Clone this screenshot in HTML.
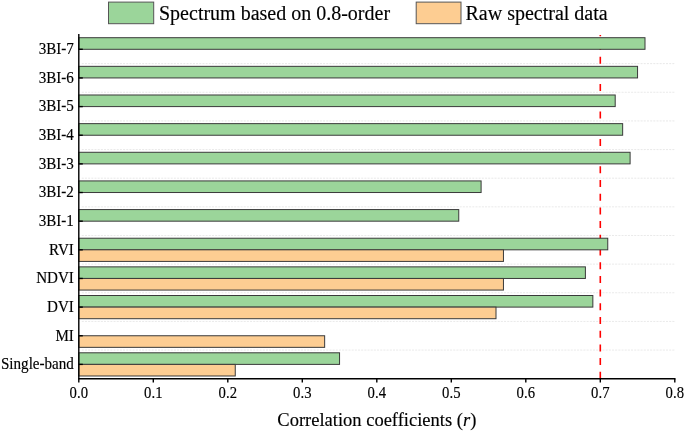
<!DOCTYPE html><html><head><meta charset="utf-8"><style>html,body{margin:0;padding:0;background:#fff;width:685px;height:431px;overflow:hidden}svg{display:block}text{font-family:"Liberation Serif",serif;fill:#000}g.t{will-change:transform;stroke:#000;stroke-width:0.15px}</style></head><body>
<svg width="685" height="431" viewBox="0 0 685 431">
<rect width="685" height="431" fill="#fff"/>
<line x1="81.80" y1="63.62" x2="674.80" y2="63.62" stroke="#e0e0e0" stroke-width="0.7" stroke-dasharray="2 1.175"/>
<line x1="81.80" y1="92.27" x2="674.80" y2="92.27" stroke="#e0e0e0" stroke-width="0.7" stroke-dasharray="2 1.175"/>
<line x1="81.80" y1="120.91" x2="674.80" y2="120.91" stroke="#e0e0e0" stroke-width="0.7" stroke-dasharray="2 1.175"/>
<line x1="81.80" y1="149.56" x2="674.80" y2="149.56" stroke="#e0e0e0" stroke-width="0.7" stroke-dasharray="2 1.175"/>
<line x1="81.80" y1="178.20" x2="674.80" y2="178.20" stroke="#e0e0e0" stroke-width="0.7" stroke-dasharray="2 1.175"/>
<line x1="81.80" y1="206.85" x2="674.80" y2="206.85" stroke="#e0e0e0" stroke-width="0.7" stroke-dasharray="2 1.175"/>
<line x1="81.80" y1="235.49" x2="674.80" y2="235.49" stroke="#e0e0e0" stroke-width="0.7" stroke-dasharray="2 1.175"/>
<line x1="81.80" y1="264.14" x2="674.80" y2="264.14" stroke="#e0e0e0" stroke-width="0.7" stroke-dasharray="2 1.175"/>
<line x1="81.80" y1="292.78" x2="674.80" y2="292.78" stroke="#e0e0e0" stroke-width="0.7" stroke-dasharray="2 1.175"/>
<line x1="81.80" y1="321.43" x2="674.80" y2="321.43" stroke="#e0e0e0" stroke-width="0.7" stroke-dasharray="2 1.175"/>
<line x1="81.80" y1="350.07" x2="674.80" y2="350.07" stroke="#e0e0e0" stroke-width="0.7" stroke-dasharray="2 1.175"/>
<line x1="600.30" y1="378.80" x2="600.30" y2="34.98" stroke="#ff0000" stroke-width="1.6" stroke-dasharray="7 6.7"/>
<rect x="78.80" y="37.70" width="566.20" height="11.60" fill="#9bd59a" stroke="#3a3a3a" stroke-width="1"/>
<rect x="78.80" y="66.34" width="558.75" height="11.60" fill="#9bd59a" stroke="#3a3a3a" stroke-width="1"/>
<rect x="78.80" y="94.99" width="536.40" height="11.60" fill="#9bd59a" stroke="#3a3a3a" stroke-width="1"/>
<rect x="78.80" y="123.64" width="543.85" height="11.60" fill="#9bd59a" stroke="#3a3a3a" stroke-width="1"/>
<rect x="78.80" y="152.28" width="551.30" height="11.60" fill="#9bd59a" stroke="#3a3a3a" stroke-width="1"/>
<rect x="78.80" y="180.92" width="402.30" height="11.60" fill="#9bd59a" stroke="#3a3a3a" stroke-width="1"/>
<rect x="78.80" y="209.57" width="379.95" height="11.60" fill="#9bd59a" stroke="#3a3a3a" stroke-width="1"/>
<rect x="78.80" y="238.22" width="528.95" height="11.60" fill="#9bd59a" stroke="#3a3a3a" stroke-width="1"/>
<rect x="78.80" y="249.81" width="424.65" height="11.60" fill="#fdcd92" stroke="#3a3a3a" stroke-width="1"/>
<rect x="78.80" y="266.86" width="506.60" height="11.60" fill="#9bd59a" stroke="#3a3a3a" stroke-width="1"/>
<rect x="78.80" y="278.46" width="424.65" height="11.60" fill="#fdcd92" stroke="#3a3a3a" stroke-width="1"/>
<rect x="78.80" y="295.50" width="514.05" height="11.60" fill="#9bd59a" stroke="#3a3a3a" stroke-width="1"/>
<rect x="78.80" y="307.11" width="417.20" height="11.60" fill="#fdcd92" stroke="#3a3a3a" stroke-width="1"/>
<rect x="78.80" y="335.75" width="245.85" height="11.60" fill="#fdcd92" stroke="#3a3a3a" stroke-width="1"/>
<rect x="78.80" y="352.79" width="260.75" height="11.60" fill="#9bd59a" stroke="#3a3a3a" stroke-width="1"/>
<rect x="78.80" y="364.39" width="156.45" height="11.60" fill="#fdcd92" stroke="#3a3a3a" stroke-width="1"/>
<line x1="78.80" y1="34.0" x2="78.80" y2="378.80" stroke="#000" stroke-width="1.4"/>
<line x1="78.10" y1="378.80" x2="675.50" y2="378.80" stroke="#000" stroke-width="1.4"/>
<line x1="78.80" y1="49.30" x2="82.80" y2="49.30" stroke="#000" stroke-width="1.4"/>
<line x1="78.80" y1="77.94" x2="82.80" y2="77.94" stroke="#000" stroke-width="1.4"/>
<line x1="78.80" y1="106.59" x2="82.80" y2="106.59" stroke="#000" stroke-width="1.4"/>
<line x1="78.80" y1="135.24" x2="82.80" y2="135.24" stroke="#000" stroke-width="1.4"/>
<line x1="78.80" y1="163.88" x2="82.80" y2="163.88" stroke="#000" stroke-width="1.4"/>
<line x1="78.80" y1="192.52" x2="82.80" y2="192.52" stroke="#000" stroke-width="1.4"/>
<line x1="78.80" y1="221.17" x2="82.80" y2="221.17" stroke="#000" stroke-width="1.4"/>
<line x1="78.80" y1="249.81" x2="82.80" y2="249.81" stroke="#000" stroke-width="1.4"/>
<line x1="78.80" y1="278.46" x2="82.80" y2="278.46" stroke="#000" stroke-width="1.4"/>
<line x1="78.80" y1="307.11" x2="82.80" y2="307.11" stroke="#000" stroke-width="1.4"/>
<line x1="78.80" y1="335.75" x2="82.80" y2="335.75" stroke="#000" stroke-width="1.4"/>
<line x1="78.80" y1="364.39" x2="82.80" y2="364.39" stroke="#000" stroke-width="1.4"/>
<line x1="78.80" y1="378.80" x2="78.80" y2="382.60" stroke="#000" stroke-width="1.4"/>
<line x1="153.30" y1="378.80" x2="153.30" y2="382.60" stroke="#000" stroke-width="1.4"/>
<line x1="227.80" y1="378.80" x2="227.80" y2="382.60" stroke="#000" stroke-width="1.4"/>
<line x1="302.30" y1="378.80" x2="302.30" y2="382.60" stroke="#000" stroke-width="1.4"/>
<line x1="376.80" y1="378.80" x2="376.80" y2="382.60" stroke="#000" stroke-width="1.4"/>
<line x1="451.30" y1="378.80" x2="451.30" y2="382.60" stroke="#000" stroke-width="1.4"/>
<line x1="525.80" y1="378.80" x2="525.80" y2="382.60" stroke="#000" stroke-width="1.4"/>
<line x1="600.30" y1="378.80" x2="600.30" y2="382.60" stroke="#000" stroke-width="1.4"/>
<line x1="674.80" y1="378.80" x2="674.80" y2="382.60" stroke="#000" stroke-width="1.4"/>
<rect x="108.5" y="2.1" width="45.2" height="21.6" fill="#9bd59a" stroke="#555" stroke-width="1"/>
<rect x="416.2" y="2.1" width="44.8" height="21.6" fill="#fdcd92" stroke="#555" stroke-width="1"/>
<g class="t"><text transform="translate(73.9 54.10) scale(1 1.08)" font-size="15.1" text-anchor="end">3BI-7</text><text transform="translate(73.9 82.74) scale(1 1.08)" font-size="15.1" text-anchor="end">3BI-6</text><text transform="translate(73.9 111.39) scale(1 1.08)" font-size="15.1" text-anchor="end">3BI-5</text><text transform="translate(73.9 140.04) scale(1 1.08)" font-size="15.1" text-anchor="end">3BI-4</text><text transform="translate(73.9 168.68) scale(1 1.08)" font-size="15.1" text-anchor="end">3BI-3</text><text transform="translate(73.9 197.32) scale(1 1.08)" font-size="15.1" text-anchor="end">3BI-2</text><text transform="translate(73.9 225.97) scale(1 1.08)" font-size="15.1" text-anchor="end">3BI-1</text><text transform="translate(73.9 254.62) scale(1 1.08)" font-size="15.1" text-anchor="end">RVI</text><text transform="translate(73.9 283.26) scale(1 1.08)" font-size="15.1" text-anchor="end">NDVI</text><text transform="translate(73.9 311.91) scale(1 1.08)" font-size="15.1" text-anchor="end">DVI</text><text transform="translate(73.9 340.55) scale(1 1.08)" font-size="15.1" text-anchor="end">MI</text><text transform="translate(73.9 369.19) scale(1 1.08)" font-size="15.1" text-anchor="end">Single-band</text><text transform="translate(78.80 397.8) scale(0.95 1.08)" font-size="15.5" text-anchor="middle">0.0</text><text transform="translate(153.30 397.8) scale(0.95 1.08)" font-size="15.5" text-anchor="middle">0.1</text><text transform="translate(227.80 397.8) scale(0.95 1.08)" font-size="15.5" text-anchor="middle">0.2</text><text transform="translate(302.30 397.8) scale(0.95 1.08)" font-size="15.5" text-anchor="middle">0.3</text><text transform="translate(376.80 397.8) scale(0.95 1.08)" font-size="15.5" text-anchor="middle">0.4</text><text transform="translate(451.30 397.8) scale(0.95 1.08)" font-size="15.5" text-anchor="middle">0.5</text><text transform="translate(525.80 397.8) scale(0.95 1.08)" font-size="15.5" text-anchor="middle">0.6</text><text transform="translate(600.30 397.8) scale(0.95 1.08)" font-size="15.5" text-anchor="middle">0.7</text><text transform="translate(674.80 397.8) scale(0.95 1.08)" font-size="15.5" text-anchor="middle">0.8</text><text x="376.80" y="425.9" font-size="18.5" text-anchor="middle">Correlation coefficients (<tspan font-style="italic">r</tspan>)</text><text x="159" y="19.9" font-size="20">Spectrum based on 0.8-order</text><text x="465.5" y="19.9" font-size="20">Raw spectral data</text></g>
</svg></body></html>
